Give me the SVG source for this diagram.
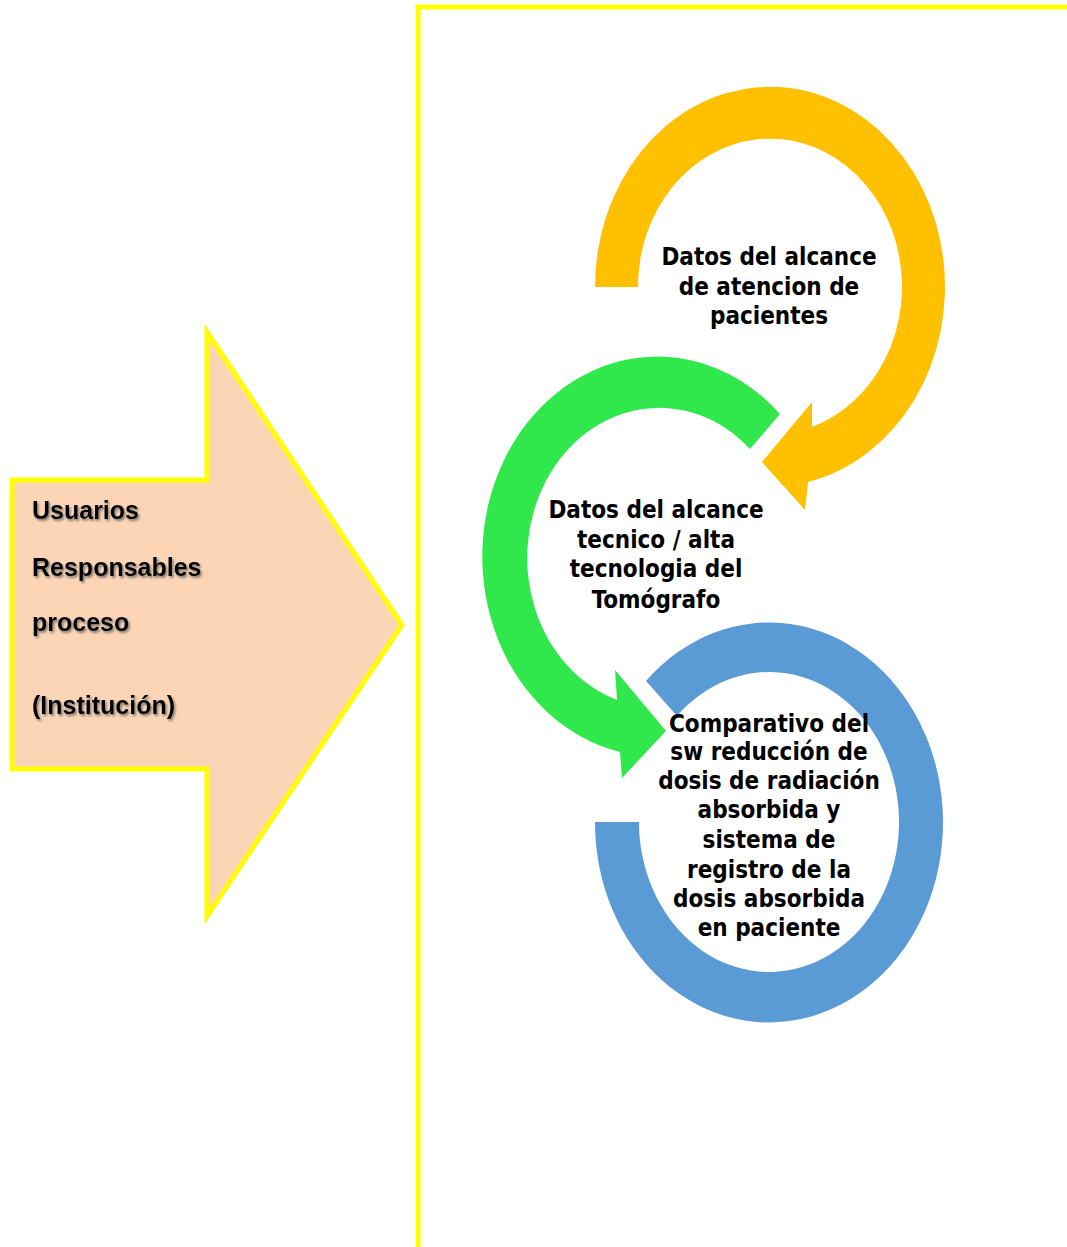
<svg xmlns="http://www.w3.org/2000/svg" width="1067" height="1247" viewBox="0 0 1067 1247">
<style>
.lbl{font-family:"DejaVu Sans Condensed","DejaVu Sans",sans-serif;font-weight:bold;font-stretch:condensed;font-size:24px;text-anchor:middle;fill:#000}
.side{font-family:"Liberation Sans",Arial,sans-serif;font-weight:bold;font-size:25px;fill:#000}
</style>
<defs>
<filter id="sh" x="-10%" y="-30%" width="130%" height="180%">
<feDropShadow dx="1.5" dy="2" stdDeviation="1.2" flood-color="#555" flood-opacity="0.7"/>
</filter>
</defs>
<rect width="1067" height="1247" fill="#fff"/>
<g id="frame">
<path d="M418,1247 L418,7 L1067,7" fill="none" stroke="#ffff00" stroke-width="5"/>
</g>
<g id="input-arrow">
<path d="M12,480 L207,480 L207,332 L402,625 L207,916 L207,769 L12,769 Z" fill="#fbd5b5" stroke="#ffff00" stroke-width="5" stroke-linejoin="miter"/>
<g class="side" filter="url(#sh)">
<text x="32" y="519">Usuarios</text>
<text x="32" y="576">Responsables</text>
<text x="32" y="631">proceso</text>
<text x="32" y="714">(Institución)</text>
</g>
</g>
<g id="connectors">
</g>
<g id="node-blue">
<path d="M646,681 A174,200 0 1,1 595,822 L639,822 A130,150 0 1,0 677,716 Z" fill="#5b9bd5"/>
</g>
<g id="node-green">
<path d="M780,414 A175,200 0 1,0 620,752 L622,778 L666,731 L615,670 L617,700 A132,150 0 1,1 750,449 Z" fill="#30e84b"/>
</g>
<g id="node-orange">
<path d="M595,287 A175,200 0 1,1 808,482 L805,510 L762,462 L812,402 L812,427 A132,148 0 1,0 638,287 Z" fill="#ffc000"/>
</g>
<g id="text-orange" class="lbl">
<text x="769" y="265">Datos del alcance</text>
<text x="769" y="295">de atencion de</text>
<text x="769" y="324">pacientes</text>
</g>
<g id="text-green" class="lbl">
<text x="656" y="518">Datos del alcance</text>
<text x="656" y="548">tecnico / alta</text>
<text x="656" y="577">tecnologia del</text>
<text x="656" y="608">Tomógrafo</text>
</g>
<g id="text-blue" class="lbl">
<text x="769" y="732">Comparativo del</text>
<text x="769" y="760">sw reducción de</text>
<text x="769" y="789">dosis de radiación</text>
<text x="769" y="818">absorbida y</text>
<text x="769" y="848">sistema de</text>
<text x="769" y="878">registro de la</text>
<text x="769" y="907">dosis absorbida</text>
<text x="769" y="936">en paciente</text>
</g>
</svg>
